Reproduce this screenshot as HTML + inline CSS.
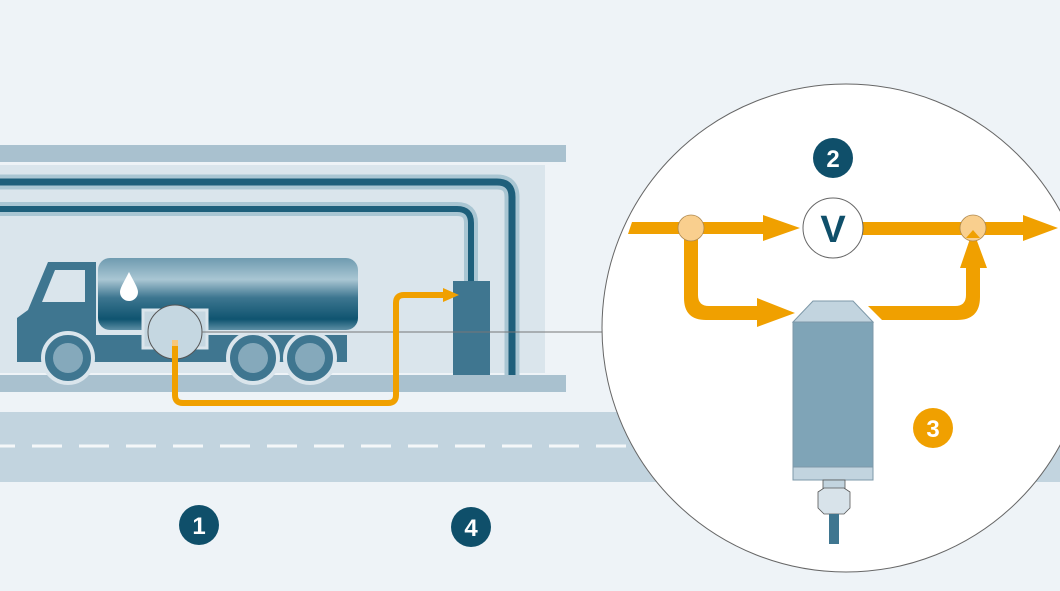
<!DOCTYPE html>
<html><head><meta charset="utf-8"><style>
html,body{margin:0;padding:0;background:#eef3f7;}
svg{display:block;font-family:"Liberation Sans",sans-serif;}
</style></head><body>
<svg width="1060" height="591" viewBox="0 0 1060 591" xmlns="http://www.w3.org/2000/svg">
<defs>
<linearGradient id="tank" x1="0" y1="0" x2="0" y2="1">
<stop offset="0" stop-color="#6f9bb0"/><stop offset="0.3" stop-color="#a9c6d3"/><stop offset="0.55" stop-color="#3d7690"/><stop offset="0.85" stop-color="#0f5470"/><stop offset="1" stop-color="#5d8ea4"/>
</linearGradient>
<linearGradient id="pipeh" x1="0" y1="0" x2="0" y2="1">
<stop offset="0" stop-color="#a9c6d3"/><stop offset="0.5" stop-color="#2f6f8a"/><stop offset="1" stop-color="#0f5470"/>
</linearGradient>
</defs>
<rect width="1060" height="591" fill="#eef3f7"/>
<!-- road -->
<rect x="0" y="412" width="1060" height="70" fill="#c2d4df"/>
<line x1="0" y1="446" x2="1060" y2="446" stroke="#f4f7f9" stroke-width="3" stroke-dasharray="30 17" stroke-dashoffset="15"/>
<!-- station -->
<rect x="0" y="145" width="566" height="17" fill="#a9c1cf"/>
<rect x="0" y="165" width="545" height="208" fill="#dae5ec"/>
<rect x="0" y="375" width="566" height="17" fill="#a9c1cf"/>
<!-- pipes -->
<path d="M0 182 H497 Q512 182 512 197 V375" fill="none" stroke="#a9c6d3" stroke-width="15"/>
<path d="M0 182 H497 Q512 182 512 197 V375" fill="none" stroke="#1d5f7b" stroke-width="7"/>
<path d="M0 209 H457 Q471 209 471 223 V283" fill="none" stroke="#a9c6d3" stroke-width="14"/>
<path d="M0 209 H457 Q471 209 471 223 V283" fill="none" stroke="#1d5f7b" stroke-width="6"/>
<rect x="453" y="281" width="37" height="94" fill="#3f7690"/>
<!-- truck -->
<path d="M48 262 H96 V335 H347 V362 H17 V318 L28 310 Z" fill="#3f7690"/>
<path d="M55 270 H85 V302 H42 Z" fill="#dae5ec"/>
<rect x="98" y="258" width="260" height="72" rx="12" fill="url(#tank)"/>
<path d="M129 272 C124 282 120 288 120 292 A8 8 0 0 0 138 292 C138 288 134 282 129 272Z" fill="#fff"/>
<rect x="143" y="310" width="64" height="38" fill="#c5d7e1" stroke="#dae5ec" stroke-width="3"/>
<g fill="#3f7690" stroke="#dae5ec" stroke-width="4">
<circle cx="68" cy="358" r="25"/><circle cx="253" cy="358" r="25"/><circle cx="310" cy="358" r="25"/>
</g>
<g fill="#85a9bb"><circle cx="68" cy="358" r="15"/><circle cx="253" cy="358" r="15"/><circle cx="310" cy="358" r="15"/></g>
<circle cx="175" cy="332" r="27" fill="#c5d7e1" stroke="#555" stroke-width="1"/>
<line x1="202" y1="332" x2="604" y2="332" stroke="#777" stroke-width="1"/>
<!-- orange path -->
<path d="M175 340 V346" stroke="#f7c77a" stroke-width="6"/>
<path d="M175 346 V395 Q175 403 183 403 H388 Q396 403 396 395 V303 Q396 295 404 295 H445" fill="none" stroke="#f0a000" stroke-width="6"/>
<path d="M443 288 L459 295 L443 302 Z" fill="#f0a000"/>
<!-- magnifier -->
<circle cx="846" cy="328" r="244" fill="#fff" stroke="#666" stroke-width="1"/>
<!-- flow arrows -->
<g fill="#f0a000">
<path d="M632 222 H763 V215 L800 228 L763 241 V234 H628 Z"/>
<rect x="862" y="222" width="162" height="13"/>
<path d="M1023 215 L1058 228 L1023 241 Z"/>
<path d="M684 228 H698 V295 Q698 306 709 306 H757 V298 L795 313 L757 327 V320 H706 Q684 320 684 298 Z"/>
<path d="M868 306 H955 Q966 306 966 295 V268 H960 L973 230 L987 268 H980 V297 Q980 320 957 320 H882 Z"/>
</g>
<circle cx="691" cy="228" r="13" fill="#f9cf8e" stroke="#b08a50" stroke-width="0.8"/>
<circle cx="973" cy="228" r="13" fill="#f9cf8e" stroke="#b08a50" stroke-width="0.8"/>
<path d="M966 238 L973 230 L980 238 Z" fill="#f0a000"/>
<circle cx="833" cy="228" r="30" fill="#fff" stroke="#666" stroke-width="1"/>
<text x="833" y="242" text-anchor="middle" font-size="38" font-weight="bold" fill="#0f4f6a">V</text>
<!-- sensor -->
<path d="M813 301 H853 L873 322 H793 Z" fill="#c2d4df" stroke="#7d98a8" stroke-width="1"/>
<rect x="793" y="322" width="80" height="145" fill="#7fa4b7" stroke="#7d98a8" stroke-width="1"/>
<rect x="793" y="467" width="80" height="13" fill="#c2d4df" stroke="#7d98a8" stroke-width="1"/>
<rect x="823" y="480" width="22" height="10" fill="#c2d4df" stroke="#555" stroke-width="0.8"/>
<path d="M818 492 L824 488 H844 L850 492 V508 L844 514 H824 L818 508 Z" fill="#d8e3ea" stroke="#555" stroke-width="0.8"/>
<rect x="829" y="514" width="10" height="30" fill="#3f7690"/>
<!-- numbers -->
<g font-weight="bold" font-size="24" text-anchor="middle" fill="#fff">
<circle cx="833" cy="158" r="20" fill="#0f4f6a"/><text x="833" y="167">2</text>
<circle cx="933" cy="428" r="20" fill="#f0a000"/><text x="933" y="437">3</text>
<circle cx="199" cy="525" r="20" fill="#0f4f6a"/><text x="199" y="534">1</text>
<circle cx="471" cy="527" r="20" fill="#0f4f6a"/><text x="471" y="536">4</text>
</g>
</svg>
</body></html>
